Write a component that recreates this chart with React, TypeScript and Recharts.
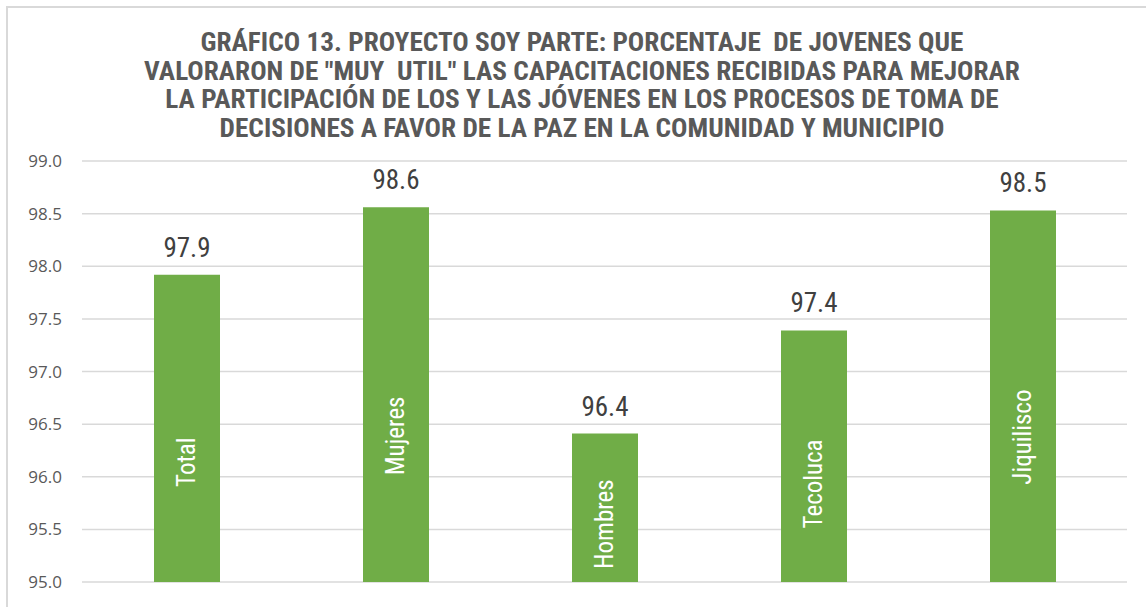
import React from 'react';
import { BarChart, Bar, XAxis, YAxis, CartesianGrid, LabelList } from 'recharts';

const categories = ['Total', 'Mujeres', 'Hombres', 'Tecoluca', 'Jiquilisco'];
const values = [97.92, 98.56, 96.41, 97.39, 98.53];
const yTicks = [95.0, 95.5, 96.0, 96.5, 97.0, 97.5, 98.0, 98.5, 99.0];
const titleLines = [
  'GRÁFICO 13. PROYECTO SOY PARTE: PORCENTAJE  DE JOVENES QUE',
  'VALORARON DE "MUY  UTIL" LAS CAPACITACIONES RECIBIDAS PARA MEJORAR',
  'LA PARTICIPACIÓN DE LOS Y LAS JÓVENES EN LOS PROCESOS DE TOMA DE',
  'DECISIONES A FAVOR DE LA PAZ EN LA COMUNIDAD Y MUNICIPIO',
];

const NARROW = "'Liberation Sans Narrow', 'Arial Narrow', 'Roboto Condensed', sans-serif";
const GREEN = '#70AD47';

const data = categories.map((name, i) => ({ name, value: values[i] }));

// category name written upward inside the bar
const InsideName = (props: any) => {
  const { x, y, width, height, value } = props;
  const cx = x + width / 2;
  const cy = y + height - height * 0.39;
  return (
    <text
      x={cx}
      y={cy}
      transform={`rotate(-90 ${cx} ${cy})`}
      textAnchor="middle"
      dominantBaseline="central"
      fill="#ffffff"
      fontFamily={NARROW}
      fontSize={25}
    >
      {value}
    </text>
  );
};

export default function App() {
  return (
    <div style={{ position: 'absolute', left: 0, top: 0, width: 1146, height: 607, overflow: 'hidden', background: '#fff' }}>
      {/* outer chart frame, cropped on the right and bottom like the original */}
      <svg width={1146} height={607} style={{ position: 'absolute', left: 0, top: 0 }}>
        <rect x={7} y={7} width={1160} height={640} fill="none" stroke="#d9d9d9" strokeWidth={2} />
      </svg>
      <div
        style={{
          position: 'absolute', left: 0, top: 29, width: 1164, textAlign: 'center',
          fontFamily: NARROW, fontWeight: 'bold', fontSize: 25, lineHeight: '28.5px',
          color: '#595959', whiteSpace: 'pre', transform: 'scaleX(1.09)', transformOrigin: '582px 0',
        }}
      >
        {titleLines.map((l) => (
          <div key={l}>{l}</div>
        ))}
      </div>
      <div style={{ position: 'absolute', left: 0, top: 0 }}>
        <BarChart width={1146} height={607} data={data} margin={{ top: 161, right: 19, bottom: 25, left: 0 }}>
          <CartesianGrid vertical={false} stroke="#d9d9d9" strokeWidth={1.5} />
          <XAxis dataKey="name" hide />
          <YAxis
            width={82}
            domain={[95, 99]}
            ticks={yTicks}
            allowDataOverflow
            axisLine={false}
            tickLine={false}
            tickSize={0}
            tickMargin={20}
            tickFormatter={(v: number) => v.toFixed(1)}
            tick={{ fill: '#595959', fontSize: 17, fontFamily: "'Open Sans', sans-serif" }}
          />
          <Bar dataKey="value" fill={GREEN} barSize={66} isAnimationActive={false}>
            <LabelList
              dataKey="value"
              position="top"
              offset={18}
              formatter={(v: number) => v.toFixed(1)}
              fill="#404040"
              fontSize={27}
              fontFamily={NARROW}
            />
            <LabelList dataKey="name" content={InsideName} />
          </Bar>
        </BarChart>
      </div>
    </div>
  );
}
